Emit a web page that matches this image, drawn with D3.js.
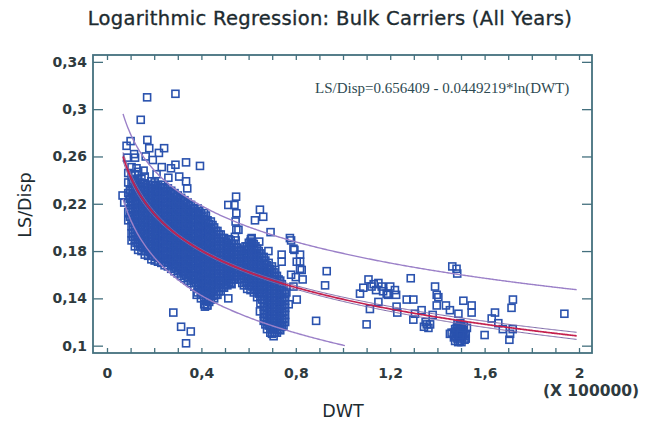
<!DOCTYPE html>
<html><head><meta charset="utf-8">
<script src="https://cdn.jsdelivr.net/npm/d3@7"></script>
<style>body{margin:0;background:#fff;} svg{display:block;}</style>
</head><body>
<svg id="chart" width="646" height="424"></svg>
<script>
// ---------- data ----------
const titleText = "Logarithmic Regression: Bulk Carriers (All Years)";
const xAxisTitle = "DWT";
const yAxisTitle = "LS/Disp";
const xScaleNote = "(X 100000)";
const equationText = "LS/Disp=0.656409 - 0.0449219*ln(DWT)";
const xTickValues = [0,0.1,0.2,0.3,0.4,0.5,0.6,0.7,0.8,0.9,1,1.1,1.2,1.3,1.4,1.5,1.6,1.7,1.8,1.9,2];
const xLabelValues = [0,0.4,0.8,1.2,1.6,2];
const yTickValues = [0.1,0.14,0.18,0.22,0.26,0.3,0.34];
const fitIntercept = 0.656409;
const fitSlope = 0.0449219;
const dwtUnit = 100000;
const fitRange = [0.068, 1.99];
const confX  = [0.068, 0.3, 0.6, 1.0, 1.5, 1.99];
const confHW = [0.0035, 0.0012, 0.0012, 0.0018, 0.0025, 0.003];
const predX  = [0.068, 0.4, 1.0, 1.99];
const predHW = [0.036, 0.038, 0.0388, 0.039];

// isolated observations (DWT/100000, LS/Disp)
const scatteredPoints = [
 [0.17,0.310],[0.29,0.313],[0.143,0.291],[0.10,0.273],[0.083,0.269],[0.171,0.274],[0.179,0.267],
 [0.242,0.267],[0.22,0.263],[0.119,0.259],[0.085,0.259],[0.335,0.255],[0.394,0.252],[0.29,0.253],
 [0.194,0.257],[0.164,0.26],[0.271,0.25],[0.232,0.251],[0.306,0.243],[0.335,0.239],[0.34,0.233],
 [0.066,0.227],[0.073,0.221],[0.125,0.25],[0.155,0.248],[0.21,0.245],[0.26,0.242],[0.115,0.262],
 [0.281,0.128],[0.314,0.116],[0.355,0.112],[0.335,0.102],
 [0.547,0.226],[0.514,0.219],[0.540,0.219],[0.548,0.212],[0.545,0.205],[0.548,0.198],[0.542,0.192],
 [0.648,0.215],[0.662,0.209],[0.627,0.206],[0.557,0.198],[0.693,0.196],[0.61,0.19],[0.645,0.188],
 [0.78,0.189],[0.79,0.182],[0.74,0.177],[0.818,0.177],[0.74,0.171],[0.818,0.171],[0.829,0.156],
 [0.825,0.164],[0.931,0.163],[0.924,0.151],[0.886,0.121],[0.804,0.139],[0.818,0.165],[0.775,0.191],
 [0.613,0.191],[0.684,0.180],[0.794,0.181],[0.804,0.171],[0.514,0.140],[0.528,0.152],[0.422,0.134],
 [0.648,0.129],[0.74,0.116],[0.698,0.115],[0.57,0.181],[0.479,0.154],[0.592,0.157],[0.76,0.145],
 [0.77,0.135],[0.78,0.16],[0.79,0.15],[0.80,0.158],[0.415,0.133],[0.38,0.143],[0.366,0.158],
 [1.10,0.118],[1.072,0.144],[1.086,0.149],[1.108,0.156],[1.121,0.150],[1.15,0.153],[1.164,0.150],
 [1.185,0.144],[1.22,0.147],[1.225,0.143],[1.19,0.143],[1.15,0.137],[1.114,0.131],[1.227,0.133],
 [1.23,0.128],[1.287,0.157],[1.27,0.139],[1.298,0.139],[1.333,0.130],[1.298,0.122],[1.305,0.127],
 [1.355,0.118],[1.362,0.115],[1.343,0.116],[1.369,0.118],[1.39,0.150],[1.397,0.143],[1.404,0.141],
 [1.397,0.134],[1.38,0.126],[1.436,0.134],[1.453,0.130],[1.489,0.127],[1.463,0.167],[1.481,0.165],
 [1.484,0.161],[1.51,0.138],[1.545,0.134],[1.545,0.128],[1.60,0.109],[1.644,0.128],[1.63,0.123],
 [1.658,0.119],[1.677,0.114],[1.72,0.139],[1.714,0.132],[1.708,0.110],[1.705,0.105],[1.719,0.114],
 [1.938,0.127],[1.453,0.110],[1.46,0.111],[1.13,0.152],[1.14,0.147],[1.17,0.146],[1.2,0.15],[1.35,0.12],
 [1.475,0.104],[1.485,0.106],[1.495,0.104],[1.505,0.107],[1.515,0.105],[1.48,0.110],[1.49,0.112],
 [1.50,0.111],[1.51,0.113],[1.52,0.110],[1.49,0.116],[1.50,0.117],[1.475,0.114],[1.525,0.115],[1.485,0.118],
 [1.478,0.108],[1.492,0.108],[1.507,0.109],[1.498,0.114],[1.512,0.117],[1.47,0.107],
 [1.478,0.112],[1.488,0.103],[1.502,0.103],[1.515,0.108],[1.52,0.106],[1.482,0.115],[1.495,0.109],
 [1.505,0.115],[1.47,0.111],[1.497,0.119]
];

// densely packed observations, listed column by column: [DWT/100000, [LS/Disp ...]]
const denseColumnsA = [
 [0.090,[0.206,0.213,0.221,0.229,0.238,0.246]],
 [0.104,[0.189,0.195,0.201,0.207,0.213,0.219,0.225,0.231,0.237,0.244,0.251]],
 [0.118,[0.184,0.190,0.196,0.202,0.208,0.214,0.220,0.226,0.232,0.238,0.245]],
 [0.132,[0.181,0.187,0.193,0.199,0.205,0.211,0.217,0.223,0.229,0.235,0.241,0.247]],
 [0.146,[0.180,0.186,0.192,0.198,0.204,0.210,0.216,0.222,0.228,0.234,0.241]],
 [0.160,[0.177,0.183,0.189,0.195,0.201,0.207,0.213,0.219,0.225,0.231,0.237,0.243]],
 [0.174,[0.176,0.182,0.188,0.194,0.200,0.206,0.212,0.218,0.224,0.230,0.236]],
 [0.188,[0.173,0.179,0.185,0.191,0.197,0.203,0.209,0.215,0.221,0.227,0.233,0.239]],
 [0.202,[0.172,0.178,0.184,0.190,0.196,0.202,0.208,0.214,0.220,0.226,0.232,0.238]],
 [0.216,[0.171,0.177,0.183,0.189,0.195,0.201,0.207,0.213,0.219,0.225,0.231,0.236]],
 [0.230,[0.170,0.176,0.182,0.188,0.194,0.200,0.206,0.212,0.218,0.224,0.230,0.236]],
 [0.244,[0.168,0.174,0.180,0.186,0.192,0.198,0.204,0.210,0.216,0.222,0.228,0.234]],
 [0.258,[0.167,0.173,0.179,0.185,0.191,0.197,0.203,0.209,0.215,0.221,0.227,0.233]],
 [0.272,[0.165,0.171,0.177,0.183,0.189,0.195,0.201,0.207,0.213,0.219,0.225,0.231]],
 [0.286,[0.163,0.169,0.175,0.181,0.187,0.193,0.199,0.205,0.211,0.217,0.223,0.229]],
 [0.300,[0.161,0.167,0.173,0.179,0.185,0.191,0.197,0.203,0.209,0.215,0.221,0.227]],
 [0.314,[0.159,0.165,0.171,0.177,0.183,0.189,0.195,0.201,0.207,0.213,0.219,0.225]],
 [0.328,[0.157,0.163,0.169,0.175,0.181,0.187,0.193,0.199,0.205,0.211,0.217,0.223]],
 [0.342,[0.155,0.161,0.167,0.173,0.179,0.185,0.191,0.197,0.203,0.209,0.215,0.221]],
 [0.356,[0.153,0.159,0.165,0.171,0.177,0.183,0.189,0.195,0.201,0.207,0.213,0.219]],
 [0.370,[0.150,0.156,0.162,0.168,0.174,0.180,0.186,0.192,0.198,0.204,0.210,0.216]],
 [0.384,[0.145,0.151,0.157,0.163,0.169,0.175,0.181,0.187,0.193,0.199,0.205,0.211,0.216]],
 [0.398,[0.140,0.146,0.152,0.158,0.164,0.170,0.176,0.182,0.188,0.194,0.200,0.206,0.212]],
 [0.412,[0.135,0.141,0.147,0.153,0.159,0.165,0.171,0.177,0.183,0.189,0.195,0.201,0.207,0.212]],
 [0.426,[0.134,0.140,0.146,0.152,0.158,0.164,0.170,0.176,0.182,0.188,0.194,0.200,0.206]],
 [0.440,[0.139,0.145,0.151,0.157,0.163,0.169,0.175,0.181,0.187,0.193,0.199,0.205]],
 [0.454,[0.140,0.146,0.152,0.158,0.164,0.170,0.176,0.182,0.188,0.194,0.200]],
 [0.468,[0.143,0.149,0.155,0.161,0.167,0.173,0.179,0.185,0.191,0.197]],
 [0.482,[0.146,0.152,0.158,0.164,0.170,0.176,0.182,0.188,0.194]],
 [0.496,[0.149,0.155,0.161,0.167,0.173,0.179,0.185,0.191]],
 [0.510,[0.151,0.157,0.163,0.169,0.175,0.181,0.187]],
 [0.524,[0.153,0.159,0.165,0.171,0.177,0.183,0.189]],
 [0.538,[0.156,0.162,0.168,0.174,0.180,0.186]],
 [0.552,[0.159,0.165,0.171,0.177,0.183]],
 [0.566,[0.156,0.162,0.168,0.174,0.180]],
 [0.580,[0.151,0.157,0.163,0.169,0.175,0.181]],
 [0.594,[0.148,0.154,0.160,0.166,0.172,0.178,0.184]],
 [0.608,[0.147,0.153,0.159,0.165,0.171,0.177,0.183,0.188]],
 [0.622,[0.145,0.151,0.157,0.163,0.169,0.175,0.181,0.186]],
 [0.636,[0.141,0.147,0.153,0.159,0.165,0.171,0.177,0.182]],
 [0.650,[0.136,0.142,0.148,0.154,0.160,0.166,0.172,0.178]],
 [0.664,[0.121,0.127,0.133,0.139,0.145,0.151,0.157,0.163,0.169,0.175]],
 [0.678,[0.114,0.120,0.126,0.132,0.138,0.144,0.150,0.156,0.162,0.168]],
 [0.692,[0.111,0.117,0.123,0.129,0.135,0.141,0.147,0.153,0.159,0.165]],
 [0.706,[0.108,0.114,0.120,0.126,0.132,0.138,0.144,0.150,0.156,0.162]],
 [0.720,[0.111,0.117,0.123,0.129,0.135,0.141,0.147,0.153,0.159]],
 [0.734,[0.113,0.119,0.125,0.131,0.137,0.143,0.149,0.155]],
 [0.748,[0.117,0.123,0.129,0.135,0.141,0.147]]
];
const denseColumnsB = [
 [0.097,[0.209,0.216,0.224,0.232]],
 [0.111,[0.192,0.198,0.204,0.210,0.216,0.222,0.228,0.234,0.240]],
 [0.125,[0.187,0.193,0.199,0.205,0.211,0.217,0.223,0.229,0.235,0.241]],
 [0.139,[0.184,0.190,0.196,0.202,0.208,0.214,0.220,0.226,0.232,0.238]],
 [0.153,[0.183,0.189,0.195,0.201,0.207,0.213,0.219,0.225,0.231,0.237]],
 [0.167,[0.180,0.186,0.192,0.198,0.204,0.210,0.216,0.222,0.228,0.234]],
 [0.181,[0.179,0.185,0.191,0.197,0.203,0.209,0.215,0.221,0.227,0.233]],
 [0.195,[0.176,0.182,0.188,0.194,0.200,0.206,0.212,0.218,0.224,0.230,0.236]],
 [0.209,[0.175,0.181,0.187,0.193,0.199,0.205,0.211,0.217,0.223,0.229,0.235]],
 [0.223,[0.174,0.180,0.186,0.192,0.198,0.204,0.210,0.216,0.222,0.228,0.234]],
 [0.237,[0.173,0.179,0.185,0.191,0.197,0.203,0.209,0.215,0.221,0.227,0.233]],
 [0.251,[0.171,0.177,0.183,0.189,0.195,0.201,0.207,0.213,0.219,0.225,0.231]],
 [0.265,[0.170,0.176,0.182,0.188,0.194,0.200,0.206,0.212,0.218,0.224,0.230]],
 [0.279,[0.168,0.174,0.180,0.186,0.192,0.198,0.204,0.210,0.216,0.222,0.228]],
 [0.293,[0.166,0.172,0.178,0.184,0.190,0.196,0.202,0.208,0.214,0.220,0.226]],
 [0.307,[0.164,0.170,0.176,0.182,0.188,0.194,0.200,0.206,0.212,0.218,0.224]],
 [0.321,[0.162,0.168,0.174,0.180,0.186,0.192,0.198,0.204,0.210,0.216,0.222]],
 [0.335,[0.160,0.166,0.172,0.178,0.184,0.190,0.196,0.202,0.208,0.214,0.220]],
 [0.349,[0.158,0.164,0.170,0.176,0.182,0.188,0.194,0.200,0.206,0.212,0.218]],
 [0.363,[0.156,0.162,0.168,0.174,0.180,0.186,0.192,0.198,0.204,0.210,0.216]],
 [0.377,[0.153,0.159,0.165,0.171,0.177,0.183,0.189,0.195,0.201,0.207,0.213]],
 [0.391,[0.148,0.154,0.160,0.166,0.172,0.178,0.184,0.190,0.196,0.202,0.208,0.214]],
 [0.405,[0.143,0.149,0.155,0.161,0.167,0.173,0.179,0.185,0.191,0.197,0.203,0.209]],
 [0.419,[0.138,0.144,0.150,0.156,0.162,0.168,0.174,0.180,0.186,0.192,0.198,0.204,0.210]],
 [0.433,[0.137,0.143,0.149,0.155,0.161,0.167,0.173,0.179,0.185,0.191,0.197,0.203]],
 [0.447,[0.142,0.148,0.154,0.160,0.166,0.172,0.178,0.184,0.190,0.196,0.202]],
 [0.461,[0.143,0.149,0.155,0.161,0.167,0.173,0.179,0.185,0.191,0.197]],
 [0.475,[0.146,0.152,0.158,0.164,0.170,0.176,0.182,0.188,0.194]],
 [0.489,[0.149,0.155,0.161,0.167,0.173,0.179,0.185,0.191]],
 [0.503,[0.152,0.158,0.164,0.170,0.176,0.182,0.188]],
 [0.517,[0.154,0.160,0.166,0.172,0.178,0.184,0.190]],
 [0.531,[0.156,0.162,0.168,0.174,0.180,0.186]],
 [0.545,[0.159,0.165,0.171,0.177,0.183,0.189]],
 [0.559,[0.162,0.168,0.174,0.180]],
 [0.573,[0.153,0.159,0.165,0.171,0.177]],
 [0.587,[0.154,0.160,0.166,0.172,0.178,0.184]],
 [0.601,[0.151,0.157,0.163,0.169,0.175,0.181,0.187]],
 [0.615,[0.150,0.156,0.162,0.168,0.174,0.180,0.186]],
 [0.629,[0.148,0.154,0.160,0.166,0.172,0.178,0.184]],
 [0.643,[0.144,0.150,0.156,0.162,0.168,0.174,0.180]],
 [0.657,[0.139,0.145,0.151,0.157,0.163,0.169,0.175]],
 [0.671,[0.118,0.124,0.130,0.136,0.142,0.148,0.154,0.160,0.166,0.172]],
 [0.685,[0.117,0.123,0.129,0.135,0.141,0.147,0.153,0.159,0.165,0.170]],
 [0.699,[0.110,0.114,0.120,0.126,0.132,0.138,0.144,0.150,0.156,0.162,0.167]],
 [0.713,[0.111,0.117,0.123,0.129,0.135,0.141,0.147,0.153,0.159,0.164]],
 [0.727,[0.114,0.120,0.126,0.132,0.138,0.144,0.150,0.156]],
 [0.741,[0.116,0.122,0.128,0.134,0.140,0.146,0.152]],
 [0.755,[0.120,0.126,0.132,0.138,0.144]]
];

// ---------- layout ----------
const svg = d3.select("#chart");
const plot = {left: 93, right: 592, top: 55, bottom: 353};
const x = d3.scaleLinear().domain([-0.0593, 2.055]).range([plot.left, plot.right]);
const y = d3.scaleLinear().domain([0.0938, 0.3458]).range([plot.bottom, plot.top]);
const loc = d3.formatLocale({decimal: ",", thousands: ".", grouping: [3], currency: ["", ""]});

const textCol = "#2e3a3e";
const frameCol = "#44707e";
const markCol = "#2a52ae";

svg.append("rect").attr("width", 646).attr("height", 424).attr("fill", "#fff");

// title
svg.append("text").attr("x", 330).attr("y", 25).attr("text-anchor", "middle")
  .attr("font-family", "DejaVu Sans").attr("font-size", 19.5).attr("letter-spacing", 0.3)
  .attr("fill", "#1d2b30").attr("stroke", "#1d2b30").attr("stroke-width", 0.35)
  .text(titleText);

// points
const densePoints = denseColumnsA.concat(denseColumnsB).flatMap(([dx, ys]) => ys.map(v => [dx, v]));
const allPoints = densePoints.concat(scatteredPoints);
const ms = 7;
svg.append("g").selectAll("rect").data(allPoints).join("rect")
  .attr("x", d => x(d[0]) - ms / 2).attr("y", d => y(d[1]) - ms / 2)
  .attr("width", ms).attr("height", ms)
  .attr("fill", "none").attr("stroke", markCol).attr("stroke-width", 1.6);

// regression curves
const fit = v => fitIntercept - fitSlope * Math.log(v * dwtUnit);
const confScale = d3.scaleLinear().domain(confX).range(confHW);
const predScale = d3.scaleLinear().domain(predX).range(predHW);
const xs = d3.range(fitRange[0], fitRange[1], 0.005).concat([fitRange[1]]);
const line = d3.line().x(d => x(d[0])).y(d => y(d[1]));
const curves = svg.append("g").attr("fill", "none");
curves.append("path").datum(xs.map(v => [v, fit(v) + predScale(v)])).attr("d", line)
  .attr("stroke", "#9b80c8").attr("stroke-width", 1.4);
curves.append("path").datum(xs.filter(v => fit(v) - predScale(v) >= 0.1).map(v => [v, fit(v) - predScale(v)])).attr("d", line)
  .attr("stroke", "#9b80c8").attr("stroke-width", 1.4);
curves.append("path").datum(xs.map(v => [v, fit(v) + confScale(v)])).attr("d", line)
  .attr("stroke", "#7d68a8").attr("stroke-width", 1);
curves.append("path").datum(xs.map(v => [v, fit(v) - confScale(v)])).attr("d", line)
  .attr("stroke", "#7d68a8").attr("stroke-width", 1);
curves.append("path").datum(xs.map(v => [v, fit(v)])).attr("d", line)
  .attr("stroke", "#c4204e").attr("stroke-width", 1.7);

// axes
function styleAxis(g) {
  g.select(".domain").remove();
  g.selectAll("line").attr("stroke", frameCol).attr("stroke-width", 1.3);
  g.selectAll("text").attr("fill", textCol).attr("font-family", "DejaVu Sans")
   .attr("font-size", 14).attr("font-weight", "bold");
}
svg.append("g").attr("transform", `translate(${plot.left},0)`)
  .call(d3.axisLeft(y).tickValues(yTickValues).tickSize(-10).tickPadding(6).tickFormat(d => loc.format(".2~f")(d)))
  .call(styleAxis);
svg.append("g").attr("transform", `translate(${plot.right},0)`)
  .call(d3.axisRight(y).tickValues(yTickValues).tickSize(-10).tickFormat(""))
  .call(styleAxis);
svg.append("g").attr("transform", `translate(0,${plot.bottom})`)
  .call(d3.axisBottom(x).tickValues(xTickValues).tickSize(-5).tickPadding(15)
    .tickFormat(d => xLabelValues.some(v => Math.abs(v - d) < 1e-9) ? loc.format("~g")(d) : ""))
  .call(styleAxis);
svg.append("g").attr("transform", `translate(0,${plot.top})`)
  .call(d3.axisTop(x).tickValues(xTickValues).tickSize(-5).tickFormat(""))
  .call(styleAxis);

// frame
svg.append("rect").attr("x", plot.left).attr("y", plot.top)
  .attr("width", plot.right - plot.left).attr("height", plot.bottom - plot.top)
  .attr("fill", "none").attr("stroke", frameCol).attr("stroke-width", 1.8);

// equation
svg.append("text").attr("x", 315).attr("y", 93)
  .attr("font-family", "Liberation Serif").attr("font-size", 15).attr("fill", "#2e4a52")
  .text(equationText);

// axis titles
svg.append("text").attr("x", 591).attr("y", 396).attr("text-anchor", "middle")
  .attr("font-family", "DejaVu Sans").attr("font-size", 15.5).attr("font-weight", "bold").attr("fill", textCol)
  .text(xScaleNote);
svg.append("text").attr("x", 343).attr("y", 417).attr("text-anchor", "middle")
  .attr("font-family", "DejaVu Sans").attr("font-size", 17.5).attr("fill", "#1d2b30")
  .text(xAxisTitle);
svg.append("text").attr("transform", "translate(31,205) rotate(-90)").attr("text-anchor", "middle")
  .attr("font-family", "DejaVu Sans").attr("font-size", 17.5).attr("fill", "#1d2b30")
  .text(yAxisTitle);
</script>
</body></html>
